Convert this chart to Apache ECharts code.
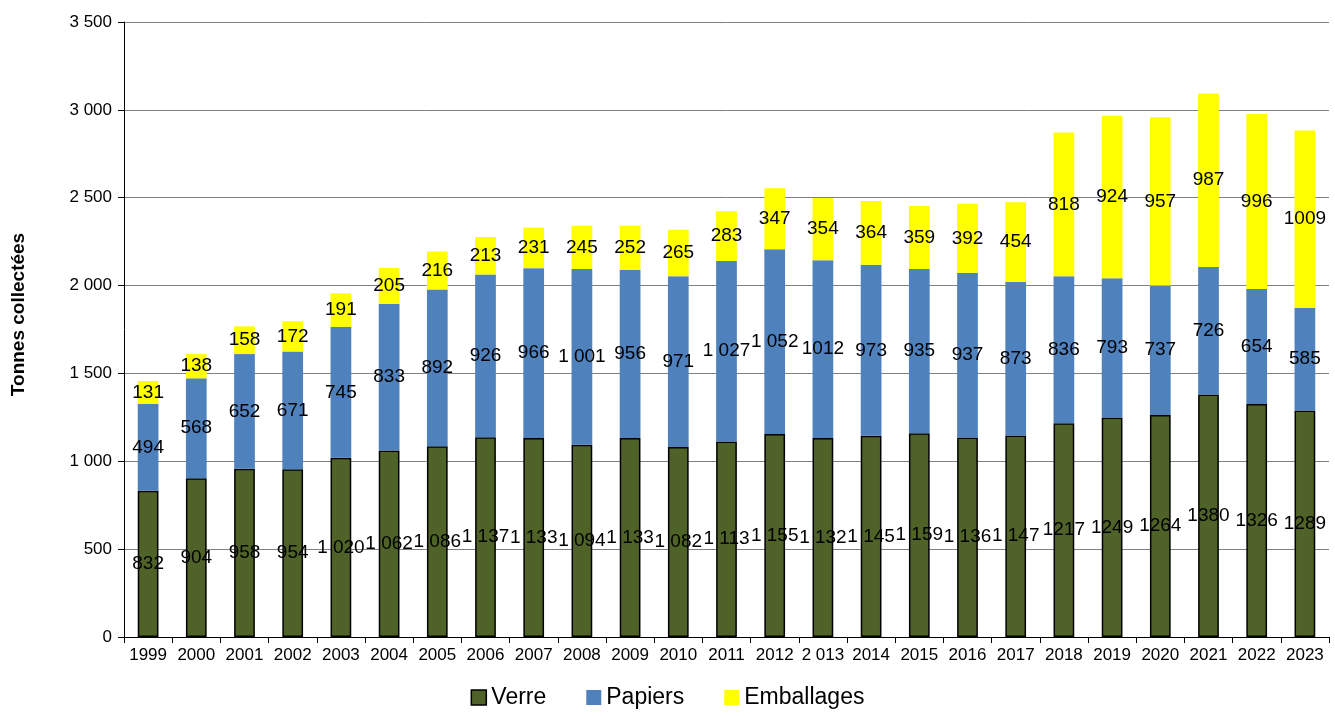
<!DOCTYPE html>
<html><head><meta charset="utf-8">
<script src="https://cdn.jsdelivr.net/npm/echarts@6/dist/echarts.min.js"></script>
<style>html,body{margin:0;padding:0;background:#fff}#c{width:1335px;height:716px}</style>
</head><body><div id="c"></div>
<script>
const categories = ["1999","2000","2001","2002","2003","2004","2005","2006","2007","2008","2009","2010","2011","2012","2 013","2014","2015","2016","2017","2018","2019","2020","2021","2022","2023"];
const verre = [832,904,958,954,1020,1062,1086,1137,1133,1094,1133,1082,1113,1155,1132,1145,1159,1136,1147,1217,1249,1264,1380,1326,1289];
const verreLabels = ["832","904","958","954","1 020","1 062","1 086","1 137","1 133","1 094","1 133","1 082","1 113","1 155","1 132","1 145","1 159","1 136","1 147","1217","1249","1264","1380","1326","1289"];
const papiers = [494,568,652,671,745,833,892,926,966,1001,956,971,1027,1052,1012,973,935,937,873,836,793,737,726,654,585];
const papiersLabels = ["494","568","652","671","745","833","892","926","966","1 001","956","971","1 027","1 052","1012","973","935","937","873","836","793","737","726","654","585"];
const emballages = [131,138,158,172,191,205,216,213,231,245,252,265,283,347,354,364,359,392,454,818,924,957,987,996,1009];
const emballagesLabels = ["131","138","158","172","191","205","216","213","231","245","252","265","283","347","354","364","359","392","454","818","924","957","987","996","1009"];

const FONT = "Liberation Sans, Arial, sans-serif";
function fmt(v){ return String(v).replace(/\B(?=(\d{3})+(?!\d))/g, " "); }
function lbl(arr){ return {show:true, position:'inside', color:'#000', fontSize:19, fontFamily:FONT, formatter:p=>arr[p.dataIndex]}; }

const chart = echarts.init(document.getElementById('c'));
chart.setOption({
  animation:false,
  textStyle:{fontFamily:FONT},
  grid:{left:124, right:6, top:22, bottom:79},
  legend:{bottom:2, left:'center', icon:'rect', itemWidth:15, itemHeight:15, itemGap:40,
    textStyle:{fontSize:23, color:'#000', fontFamily:FONT},
    data:[{name:'Verre', itemStyle:{borderColor:'#000', borderWidth:1.5}}, 'Papiers', 'Emballages']},
  xAxis:{type:'category', data:categories, boundaryGap:true,
    axisLine:{lineStyle:{color:'#000', width:1}},
    axisTick:{show:true, length:6, lineStyle:{color:'#000'}},
    axisLabel:{color:'#000', fontSize:17, margin:10, interval:0, fontFamily:FONT}},
  yAxis:{type:'value', min:0, max:3500, interval:500,
    name:'Tonnes collectées', nameLocation:'middle', nameGap:96, nameRotate:90,
    nameTextStyle:{fontSize:19, fontWeight:'bold', color:'#000', fontFamily:FONT, padding:[0,0,0,30]},
    axisLine:{show:true, lineStyle:{color:'#000'}},
    axisTick:{show:true, length:6, lineStyle:{color:'#000'}},
    splitLine:{lineStyle:{color:'#808080', width:1}},
    axisLabel:{color:'#000', fontSize:17, margin:12, formatter:fmt, fontFamily:FONT}},
  series:[
    {name:'Verre', type:'bar', stack:'t', data:verre, barWidth:'43%',
      itemStyle:{color:'#4F6228', borderColor:'#000', borderWidth:1.5}, label:lbl(verreLabels)},
    {name:'Papiers', type:'bar', stack:'t', data:papiers,
      itemStyle:{color:'#4F81BD'}, label:lbl(papiersLabels)},
    {name:'Emballages', type:'bar', stack:'t', data:emballages,
      itemStyle:{color:'#FFFF00'}, label:lbl(emballagesLabels)}
  ]
});
</script></body></html>
